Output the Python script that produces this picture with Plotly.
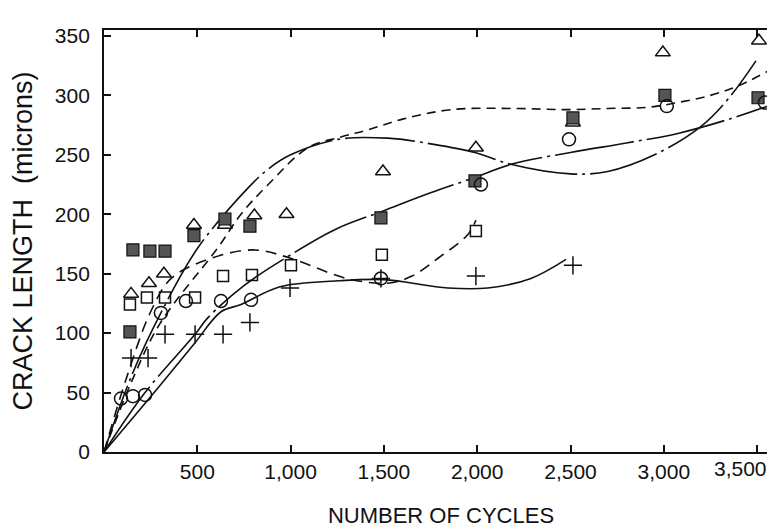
import plotly.graph_objects as go

# ---- data ----
x_ticks = [500, 1000, 1500, 2000, 2500, 3000, 3500]
x_tick_labels = ["500", "1,000", "1,500", "2,000", "2,500", "3,000", "3,500"]
y_ticks = [0, 50, 100, 150, 200, 250, 300, 350]

filled_sq_x = [139, 155, 246, 327, 482, 648, 782, 1484, 1988, 2513, 3006, 3505]
filled_sq_y = [101, 170, 169, 169, 182, 196, 190, 197, 228, 281, 300, 298]

triangle_x = [145, 241, 321, 482, 648, 806, 978, 1495, 1993, 2513, 2995, 3510]
triangle_y = [133, 142, 150, 191, 191, 199, 200, 236, 256, 277, 336, 346]

open_sq_x = [139, 230, 327, 488, 638, 793, 1002, 1489, 1993]
open_sq_y = [124, 130, 130, 130, 148, 149, 157, 166, 186]

circle_x = [91, 155, 220, 305, 439, 627, 788, 1484, 2020, 2492, 3016, 3542]
circle_y = [45, 47, 48, 117, 127, 127, 128, 146, 225, 263, 291, 294]

plus_x = [145, 236, 327, 488, 638, 782, 997, 1484, 1993, 2513]
plus_y = [79, 79, 99, 99, 99, 109, 138, 146, 148, 157]

# fitted curves
curve_s1_x = [0, 150, 305, 504, 771, 880, 1000, 1254, 1520, 1760, 1988, 2180, 2500, 2700, 2950, 3200, 3350, 3494]
curve_s1_y = [0, 65, 117, 172, 222, 238, 250, 263, 264, 259, 252, 242, 234, 236, 250, 274, 298, 329]

curve_d1_x = [0, 150, 300, 611, 734, 880, 1093, 1270, 1414, 1600, 1860, 2200, 2470, 2700, 2914, 3075, 3250, 3413, 3612]
curve_d1_y = [0, 60, 108, 172, 200, 225, 256, 265, 271, 280, 288, 289, 288, 289, 290, 294, 300, 309, 325]

curve_d2_x = [0, 120, 250, 360, 557, 800, 1000, 1300, 1522, 1650, 1790, 1950, 1993]
curve_d2_y = [0, 62, 118, 146, 162, 170, 163, 146, 142, 148, 163, 183, 195]

curve_s2_x = [0, 220, 488, 557, 750, 1002, 1250, 1500, 1750, 1988, 2180, 2500, 2800, 3075, 3350, 3612]
curve_s2_y = [0, 50, 99, 113, 140, 166, 188, 203, 218, 231, 242, 252, 260, 268, 280, 294]

curve_s3_x = [0, 300, 488, 627, 734, 943, 1254, 1500, 1843, 2057, 2288, 2476]
curve_s3_y = [0, 56, 92, 118, 124, 139, 144, 145, 138, 138, 146, 162]

INK = "#111111"
fig = go.Figure()

def add_curve(xs, ys, dash, width=1.6):
    fig.add_trace(go.Scatter(
        x=xs, y=ys, mode="lines",
        line=dict(color=INK, width=width, dash=dash, shape="spline", smoothing=1.0),
        hoverinfo="skip", showlegend=False))

add_curve(curve_s1_x, curve_s1_y, "70px,5px,3px,5px")
add_curve(curve_d1_x, curve_d1_y, "9px,6px")
add_curve(curve_d2_x, curve_d2_y, "11px,7px")
add_curve(curve_s2_x, curve_s2_y, "80px,5px,3px,5px")
add_curve(curve_s3_x, curve_s3_y, "solid")

def add_markers(xs, ys, symbol, size, color=INK, fill=None, lw=1.5):
    fig.add_trace(go.Scatter(
        x=xs, y=ys, mode="markers",
        marker=dict(symbol=symbol, size=size, color=fill if fill else color,
                    line=dict(color=color, width=lw)),
        showlegend=False))

add_markers(open_sq_x, open_sq_y, "square-open", 11)
add_markers(triangle_x, triangle_y, "triangle-up-open", 13)
add_markers(filled_sq_x, filled_sq_y, "square", 12, fill="#555555", lw=1.2)
add_markers(circle_x, circle_y, "circle-open", 13)
add_markers(plus_x, plus_y, "cross-thin-open", 13)

tick_font = dict(family="Liberation Sans, Arial, sans-serif", size=21, color=INK)

# the last label sits left of its tick in the reference so it stays on the page;
# it is drawn as an annotation anchored at that tick's x value
x_tick_text = x_tick_labels[:-1] + [""]

fig.update_layout(
    width=775, height=529,
    margin=dict(l=96, r=5, t=22, b=85),
    paper_bgcolor="white", plot_bgcolor="white",
    xaxis=dict(
        range=[0, 3612], tickvals=x_ticks, ticktext=x_tick_text,
        ticks="inside", ticklen=7, tickwidth=1.5, tickcolor=INK,
        showline=True, linecolor=INK, linewidth=1.8, mirror="ticks",
        showgrid=False, zeroline=False, tickfont=tick_font,
        ticklabelstandoff=0, ticklabeloverflow="allow",
        title=dict(text="NUMBER OF CYCLES",
                   font=dict(family="Liberation Sans, Arial, sans-serif", size=22, color=INK),
                   standoff=26),
        automargin=False,
    ),
    yaxis=dict(
        range=[0, 355], tickvals=y_ticks,
        ticks="inside", ticklen=7, tickwidth=1.5, tickcolor=INK,
        showline=True, linecolor=INK, linewidth=1.8, mirror="ticks",
        showgrid=False, zeroline=False, tickfont=tick_font,
        ticklabelstandoff=8, ticklabeloverflow="allow",
        title=dict(text="CRACK LENGTH  (microns)",
                   font=dict(family="Liberation Sans, Arial, sans-serif", size=27, color=INK),
                   standoff=26),
        automargin=False,
    ),
    annotations=[dict(
        x=x_ticks[-1], xref="x", y=0, yref="paper",
        text=x_tick_labels[-1], showarrow=False,
        xanchor="right", yanchor="middle", xshift=12, yshift=-16,
        font=tick_font,
    )],
)

fig.write_html("out.html")
